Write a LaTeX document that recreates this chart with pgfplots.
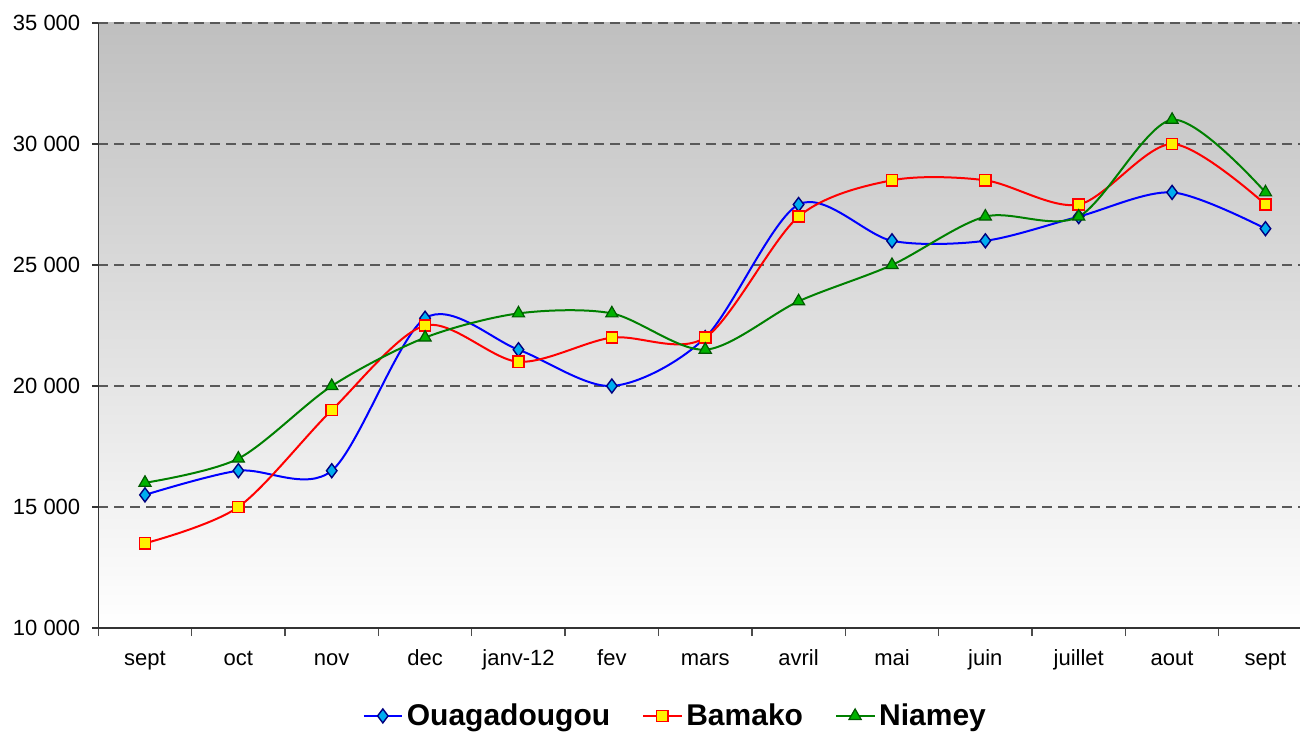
\documentclass[border=0pt]{standalone}
\usepackage{fontspec}
\setmainfont{Liberation Sans}
\usepackage{pgfplots}
\pgfplotsset{compat=1.18}

\begin{document}
\begin{tikzpicture}
\begin{axis}[
    name=ax,
    scale only axis,
    width=600.85pt, height=302.5pt,
    xmin=-0.5, xmax=12.37,
    ymin=10000, ymax=35000,
    axis x line*=bottom, axis y line*=left,
    axis line style={black!80, line width=0.7pt},
    axis background/.style={top color=black!25, bottom color=white},
    ytick={10000,15000,...,35000},
    xtick={0,...,12},
    xticklabels={sept,oct,nov,dec,janv-12,fev,mars,avril,mai,juin,juillet,aout,sept},
    minor xtick={-0.5,0.5,...,12.5},
    major x tick style={draw=none},
    minor x tick style={black!70, line width=0.7pt},
    y tick style={black!80, line width=0.7pt},
    tick align=outside,
    major tick length=3pt, minor tick length=4pt,
    ymajorgrids,
    grid style={black!65, line width=0.6pt, dash pattern=on 5pt off 3pt},
    tick label style={font=\fontsize{11}{13}\selectfont},
    xticklabel style={anchor=base, yshift=-15.5pt},
    yticklabel style={xshift=-2.5pt},
    scaled y ticks=false,
    /pgf/number format/.cd, 1000 sep={\ }, assume math mode=true,
    /pgfplots/.cd,
    legend columns=3,
    legend style={draw=none, fill=none, at={(0.481,-0.111)}, anchor=north,
                  font=\bfseries\fontsize{15}{17}\selectfont,
                  /tikz/every even column/.append style={column sep=14pt}},
    legend image code/.code={%
        \draw[mark repeat=2, mark phase=2] plot coordinates {(0cm,0cm)(0.335cm,0cm)(0.67cm,0cm)};},
    every axis plot/.append style={line width=1pt, smooth},
]
\addplot[color=blue, mark=diamond*, mark size=3.5pt,
         mark options={fill=cyan, draw=blue!50!black, line width=0.7pt}] coordinates {
    (0,15500)(1,16500)(2,16500)(3,22800)(4,21500)(5,20000)(6,22000)
    (7,27500)(8,26000)(9,26000)(10,27000)(11,28000)(12,26500)};
\addplot[color=red, mark=square*, mark size=2.8pt,
         mark options={fill=yellow, draw=red, line width=0.7pt}] coordinates {
    (0,13500)(1,15000)(2,19000)(3,22500)(4,21000)(5,22000)(6,22000)
    (7,27000)(8,28500)(9,28500)(10,27500)(11,30000)(12,27500)};
\addplot[color=green!50!black, mark=triangle*, mark size=3.5pt,
         mark options={fill=green!70!black, draw=green!35!black, line width=0.6pt}] coordinates {
    (0,16000)(1,17000)(2,20000)(3,22000)(4,23000)(5,23000)(6,21500)
    (7,23500)(8,25000)(9,27000)(10,27000)(11,31000)(12,28000)};
\legend{Ouagadougou, Bamako, Niamey}
\end{axis}
\pgfresetboundingbox
\useasboundingbox ([shift={(-49.15pt,-52.5pt)}]ax.south west) rectangle ([shift={(0pt,11.5pt)}]ax.north east);
\end{tikzpicture}
\end{document}
